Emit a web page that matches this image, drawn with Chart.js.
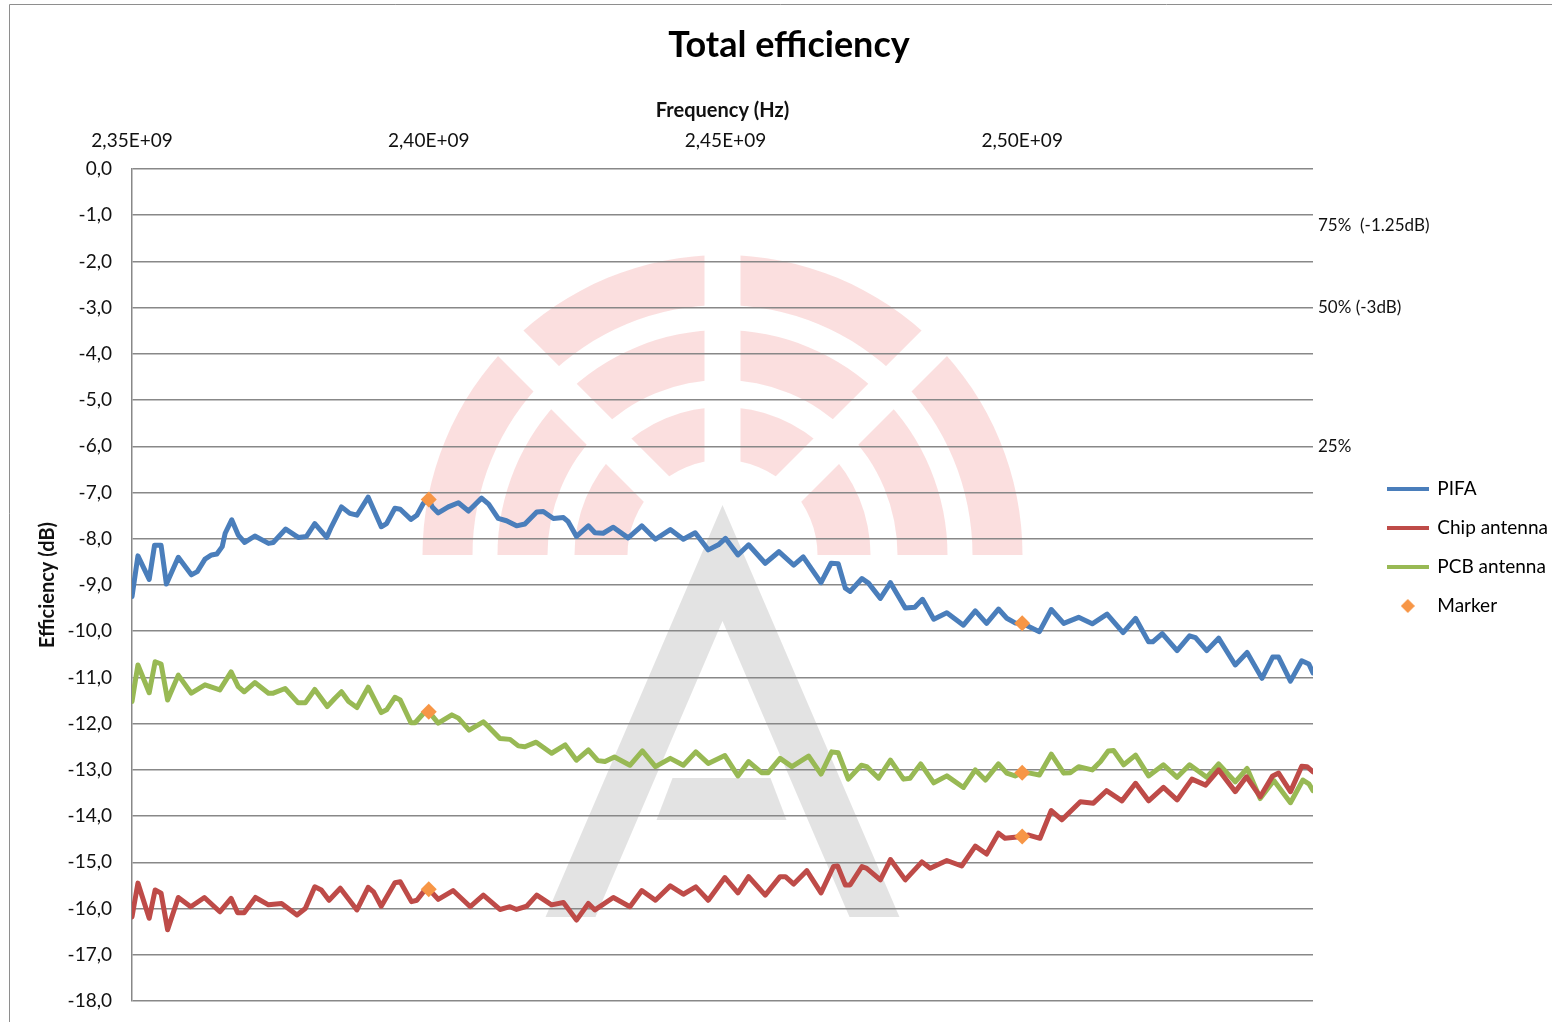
<!DOCTYPE html>
<html>
<head>
<meta charset="utf-8">
<title>Total efficiency</title>
<script src="https://cdn.jsdelivr.net/npm/chart.js@4.4.1/dist/chart.umd.min.js"></script>
<style>
    html, body { margin: 0; padding: 0; background: #fff; }
    canvas { display: block; }
</style>
</head>
<body>
<canvas id="effChart" width="1552" height="1022"></canvas>
<script>
// Measured total efficiency, frequency in MHz, efficiency in dB
const pifaFreqMHz = [2350.0, 2351.0, 2352.9, 2353.8, 2354.9, 2355.8, 2357.8, 2360.0, 2361.0, 2362.3, 2363.4, 2364.3, 2365.2, 2365.7, 2366.8, 2367.9, 2369.0, 2370.7, 2373.0, 2373.8, 2375.9, 2378.0, 2379.4, 2380.8, 2382.8, 2383.6, 2385.3, 2386.7, 2387.9, 2389.8, 2392.0, 2392.9, 2394.3, 2395.2, 2397.0, 2398.0, 2399.1, 2400.0, 2400.6, 2401.6, 2403.3, 2405.0, 2406.7, 2408.9, 2410.1, 2411.7, 2413.1, 2414.8, 2416.2, 2418.2, 2419.3, 2421.0, 2422.7, 2423.5, 2424.9, 2426.9, 2428.0, 2429.4, 2431.1, 2433.6, 2435.9, 2438.2, 2440.7, 2442.9, 2444.9, 2447.1, 2448.8, 2450.0, 2452.1, 2453.9, 2456.7, 2459.0, 2461.5, 2463.1, 2466.1, 2467.8, 2469.0, 2470.2, 2471.0, 2473.0, 2474.1, 2476.1, 2477.8, 2480.3, 2481.9, 2483.2, 2485.1, 2487.3, 2490.1, 2492.1, 2494.0, 2496.0, 2497.4, 2498.8, 2500.0, 2501.1, 2502.9, 2504.9, 2507.0, 2509.5, 2511.8, 2514.3, 2517.0, 2519.1, 2521.3, 2522.0, 2523.6, 2526.1, 2528.2, 2529.2, 2531.1, 2533.1, 2535.9, 2537.9, 2540.4, 2542.2, 2543.2, 2545.2, 2547.1, 2548.3, 2549.0];
const pifaDb = [-9.25, -8.37, -8.88, -8.14, -8.14, -8.98, -8.40, -8.78, -8.71, -8.44, -8.35, -8.33, -8.17, -7.88, -7.59, -7.92, -8.08, -7.94, -8.10, -8.08, -7.79, -7.97, -7.95, -7.67, -7.97, -7.74, -7.31, -7.45, -7.49, -7.10, -7.74, -7.67, -7.34, -7.36, -7.58, -7.49, -7.23, -7.15, -7.31, -7.44, -7.31, -7.22, -7.40, -7.12, -7.25, -7.56, -7.61, -7.72, -7.68, -7.42, -7.41, -7.56, -7.54, -7.63, -7.95, -7.72, -7.87, -7.88, -7.75, -7.98, -7.72, -8.01, -7.80, -8.01, -7.87, -8.24, -8.13, -7.99, -8.35, -8.13, -8.53, -8.28, -8.57, -8.39, -8.95, -8.53, -8.54, -9.07, -9.14, -8.86, -8.96, -9.29, -8.95, -9.50, -9.48, -9.31, -9.74, -9.60, -9.87, -9.56, -9.83, -9.52, -9.72, -9.82, -9.83, -9.90, -10.01, -9.53, -9.83, -9.70, -9.84, -9.63, -10.03, -9.72, -10.23, -10.23, -10.05, -10.42, -10.10, -10.14, -10.42, -10.15, -10.73, -10.46, -11.02, -10.56, -10.56, -11.08, -10.64, -10.71, -10.90];

const chipFreqMHz = [2350.0, 2351.0, 2352.9, 2353.9, 2354.9, 2356.0, 2357.8, 2359.9, 2362.2, 2364.8, 2366.7, 2367.8, 2368.9, 2370.8, 2373.0, 2375.2, 2377.8, 2379.2, 2380.8, 2381.9, 2383.2, 2385.1, 2387.9, 2389.8, 2390.7, 2392.0, 2394.3, 2395.2, 2397.1, 2398.0, 2399.1, 2400.0, 2401.6, 2404.1, 2407.0, 2409.2, 2412.0, 2413.7, 2414.8, 2416.5, 2418.2, 2420.7, 2422.7, 2424.9, 2426.9, 2428.0, 2431.1, 2433.9, 2435.9, 2438.2, 2440.7, 2442.9, 2445.0, 2447.1, 2449.9, 2452.1, 2453.9, 2456.7, 2459.2, 2460.1, 2461.5, 2463.7, 2466.1, 2468.2, 2468.9, 2470.2, 2471.0, 2473.0, 2473.8, 2476.1, 2477.8, 2480.3, 2483.1, 2484.5, 2487.3, 2489.8, 2492.1, 2494.0, 2496.0, 2497.1, 2500.0, 2501.1, 2503.0, 2504.9, 2506.7, 2509.8, 2512.0, 2514.2, 2516.8, 2519.1, 2521.3, 2523.8, 2526.1, 2528.6, 2530.9, 2533.1, 2535.9, 2537.8, 2540.1, 2542.2, 2543.2, 2545.2, 2547.1, 2548.0, 2549.0];
const chipDb = [-16.18, -15.45, -16.21, -15.60, -15.67, -16.46, -15.76, -15.96, -15.76, -16.07, -15.78, -16.09, -16.09, -15.76, -15.92, -15.89, -16.14, -16.00, -15.53, -15.60, -15.82, -15.56, -16.03, -15.54, -15.64, -15.95, -15.44, -15.42, -15.85, -15.82, -15.64, -15.58, -15.80, -15.61, -15.96, -15.71, -16.02, -15.96, -16.02, -15.95, -15.71, -15.92, -15.87, -16.25, -15.89, -16.03, -15.76, -15.96, -15.61, -15.82, -15.51, -15.69, -15.53, -15.82, -15.33, -15.66, -15.31, -15.71, -15.31, -15.31, -15.47, -15.18, -15.66, -15.09, -15.08, -15.49, -15.49, -15.09, -15.13, -15.38, -14.94, -15.38, -14.99, -15.13, -14.96, -15.08, -14.65, -14.82, -14.37, -14.48, -14.44, -14.41, -14.48, -13.88, -14.08, -13.69, -13.72, -13.45, -13.67, -13.29, -13.67, -13.38, -13.65, -13.20, -13.33, -13.00, -13.47, -13.15, -13.58, -13.13, -13.07, -13.47, -12.92, -12.93, -13.04];

const pcbFreqMHz = [2350.0, 2351.0, 2352.9, 2353.9, 2354.9, 2356.0, 2357.8, 2360.0, 2362.3, 2364.8, 2366.7, 2367.9, 2368.9, 2370.7, 2373.0, 2373.8, 2375.8, 2378.0, 2379.2, 2380.8, 2382.9, 2384.2, 2385.3, 2386.5, 2387.9, 2389.8, 2392.0, 2392.9, 2394.3, 2395.2, 2397.0, 2397.7, 2399.1, 2400.0, 2401.6, 2403.9, 2405.0, 2406.8, 2409.2, 2410.1, 2412.0, 2413.7, 2415.1, 2416.2, 2418.1, 2420.7, 2423.0, 2424.9, 2426.9, 2428.5, 2429.7, 2431.3, 2433.9, 2436.0, 2438.2, 2440.7, 2442.9, 2445.0, 2447.1, 2449.9, 2452.1, 2453.9, 2456.1, 2457.2, 2459.2, 2461.2, 2464.0, 2466.1, 2467.9, 2469.0, 2470.7, 2472.9, 2473.8, 2475.8, 2477.8, 2480.0, 2481.1, 2482.9, 2485.1, 2487.3, 2490.1, 2492.1, 2493.8, 2496.0, 2497.4, 2498.8, 2500.0, 2501.3, 2502.9, 2504.9, 2507.0, 2508.1, 2509.5, 2511.8, 2513.2, 2514.5, 2515.4, 2517.1, 2519.1, 2521.3, 2523.8, 2526.1, 2528.2, 2531.1, 2533.1, 2535.9, 2537.9, 2540.1, 2542.4, 2545.2, 2547.3, 2548.3, 2549.0];
const pcbDb = [-11.52, -10.73, -11.33, -10.66, -10.71, -11.49, -10.95, -11.34, -11.16, -11.27, -10.88, -11.20, -11.31, -11.11, -11.34, -11.34, -11.24, -11.55, -11.55, -11.26, -11.63, -11.45, -11.31, -11.52, -11.65, -11.21, -11.76, -11.70, -11.43, -11.49, -11.98, -11.98, -11.78, -11.74, -11.99, -11.81, -11.88, -12.14, -11.96, -12.07, -12.32, -12.34, -12.48, -12.50, -12.40, -12.64, -12.46, -12.79, -12.57, -12.80, -12.82, -12.72, -12.90, -12.59, -12.93, -12.75, -12.90, -12.61, -12.86, -12.69, -13.13, -12.82, -13.06, -13.06, -12.75, -12.93, -12.70, -13.09, -12.61, -12.63, -13.20, -12.90, -12.93, -13.18, -12.79, -13.20, -13.18, -12.87, -13.28, -13.13, -13.38, -13.00, -13.22, -12.87, -13.07, -13.13, -13.06, -13.07, -13.11, -12.66, -13.07, -13.06, -12.93, -13.00, -12.82, -12.59, -12.58, -12.89, -12.68, -13.13, -12.89, -13.16, -12.89, -13.16, -12.87, -13.26, -12.97, -13.62, -13.23, -13.71, -13.22, -13.30, -13.45];

// Marker points at 2.40 and 2.50 GHz on each curve
const markerFreqMHz = [2400, 2400, 2400, 2500, 2500, 2500];
const markerDb = [-7.15, -11.74, -15.58, -9.83, -13.06, -14.44];

// Frequency axis ticks (Hz)
const freqTicksHz = [2.35e9, 2.40e9, 2.45e9, 2.50e9];

// Reference efficiency levels written next to the plot
const effLevelsDb = [-1.25, -3.01, -6.02];
const effLabels = ['75%  (-1.25dB)', '50% (-3dB)', '25%'];

const COLORS = {
    pifa: '#4a7ebb',
    chip: '#be4b48',
    pcb: '#98b954',
    marker: '#f79646',
    grid: '#888888',
    text: '#111111'
};

const FONT = 'Lato, "Open Sans", sans-serif';

// Plot area edges in canvas pixels
const PLOT_LEFT = 132;
const PLOT_TOP = 169;
const PLOT_RIGHT = 1313;
// the legend runs a few pixels past the right edge, like the original sheet
const PAD = { left: 20, right: -6, top: 0, bottom: 21 };

Chart.defaults.font.family = FONT;
Chart.defaults.color = COLORS.text;

function formatHz(value) {
    return (value / 1e9).toFixed(2).replace('.', ',') + 'E+09';
}

function lineSet(label, freqs, values, color) {
    return {
        label: label,
        data: freqs.map((f, i) => ({ x: f * 1e6, y: values[i] })),
        showLine: true,
        borderColor: color,
        backgroundColor: color,
        borderWidth: 5,
        borderJoinStyle: 'round',
        borderCapStyle: 'round',
        pointRadius: 0,
        pointHoverRadius: 0,
        tension: 0,
        order: 1
    };
}

// Small canvases used as legend symbols
function lineIcon(color) {
    const c = document.createElement('canvas');
    c.width = 42;
    c.height = 4;
    const g = c.getContext('2d');
    g.fillStyle = color;
    g.fillRect(0, 0, 42, 4);
    return c;
}

function diamondIcon(color) {
    const c = document.createElement('canvas');
    c.width = 14;
    c.height = 14;
    const g = c.getContext('2d');
    g.fillStyle = color;
    g.beginPath();
    g.moveTo(7, 0);
    g.lineTo(14, 7);
    g.lineTo(7, 14);
    g.lineTo(0, 7);
    g.closePath();
    g.fill();
    return c;
}

// Logo behind the plot: radio rings and a grey "A"
const watermark = {
    id: 'watermark',
    beforeDraw(chart) {
        const { ctx, chartArea: a } = chart;
        const cx = (a.left + a.right) / 2;
        const cy = a.top + 386;
        ctx.save();

        ctx.fillStyle = 'rgba(235, 80, 80, 0.18)';
        [[95, 148], [175, 225], [250, 300]].forEach(([r0, r1]) => {
            ctx.beginPath();
            ctx.arc(cx, cy, r1, Math.PI, 2 * Math.PI);
            ctx.arc(cx, cy, r0, 2 * Math.PI, Math.PI, true);
            ctx.closePath();
            ctx.fill();
        });

        // cut the rings into segments
        ctx.globalCompositeOperation = 'destination-out';
        ctx.fillStyle = '#000';
        [-135, -90, -45].forEach(deg => {
            ctx.save();
            ctx.translate(cx, cy);
            ctx.rotate(deg * Math.PI / 180);
            ctx.fillRect(0, -18, 320, 36);
            ctx.restore();
        });
        ctx.globalCompositeOperation = 'source-over';

        ctx.fillStyle = 'rgba(0, 0, 0, 0.11)';
        const apex = a.top + 336;
        const base = a.top + 748;
        ctx.beginPath();
        ctx.moveTo(cx, apex);
        ctx.lineTo(cx + 177, base);
        ctx.lineTo(cx + 127, base);
        ctx.lineTo(cx, apex + 116);
        ctx.lineTo(cx - 127, base);
        ctx.lineTo(cx - 177, base);
        ctx.closePath();
        ctx.fill();

        ctx.beginPath();
        ctx.moveTo(cx - 50, a.top + 609);
        ctx.lineTo(cx + 48, a.top + 609);
        ctx.lineTo(cx + 64, a.top + 651);
        ctx.lineTo(cx - 66, a.top + 651);
        ctx.closePath();
        ctx.fill();

        ctx.restore();
    }
};

// Efficiency percentages written just right of the plot
const levelLabels = {
    id: 'levelLabels',
    afterDraw(chart) {
        const { ctx, chartArea } = chart;
        const yScale = chart.scales.y;
        ctx.save();
        ctx.font = '17px ' + FONT;
        ctx.fillStyle = COLORS.text;
        ctx.textAlign = 'left';
        ctx.textBaseline = 'middle';
        effLevelsDb.forEach((db, i) => {
            ctx.fillText(effLabels[i], chartArea.right + 5, yScale.getPixelForValue(db) - 1);
        });
        ctx.restore();
    }
};

// Outer frame of the chart
const frame = {
    id: 'frame',
    afterDraw(chart) {
        const ctx = chart.ctx;
        ctx.save();
        ctx.strokeStyle = '#8e8e8e';
        ctx.lineWidth = 1;
        ctx.beginPath();
        ctx.moveTo(9.5, chart.height);
        ctx.lineTo(9.5, 4.5);
        ctx.lineTo(chart.width, 4.5);
        ctx.stroke();
        ctx.restore();
    }
};

const datasets = [
    lineSet('PIFA', pifaFreqMHz, pifaDb, COLORS.pifa),
    lineSet('Chip antenna', chipFreqMHz, chipDb, COLORS.chip),
    lineSet('PCB antenna', pcbFreqMHz, pcbDb, COLORS.pcb),
    {
        label: 'Marker',
        data: markerFreqMHz.map((f, i) => ({ x: f * 1e6, y: markerDb[i] })),
        showLine: false,
        pointStyle: 'rectRot',
        pointRadius: 8,
        pointHoverRadius: 8,
        pointBorderWidth: 0,
        backgroundColor: COLORS.marker,
        borderColor: COLORS.marker,
        order: 0
    }
];

const chart = new Chart(document.getElementById('effChart'), {
    type: 'scatter',
    data: { datasets: datasets },
    options: {
        responsive: false,
        devicePixelRatio: 1,
        animation: false,
        events: [],
        layout: { padding: PAD },
        plugins: {
            title: {
                display: true,
                text: 'Total efficiency',
                color: '#000',
                font: { size: 36, weight: 'bold' },
                padding: { top: 23.4, bottom: 0 }
            },
            legend: {
                position: 'right',
                align: 'center',
                // empty title only pushes the entries down
                title: { display: true, text: '', font: { size: 10 }, padding: 41 },
                labels: {
                    usePointStyle: true,
                    pointStyleWidth: 40,
                    padding: 20,
                    color: '#000',
                    font: { size: 19 },
                    sort: (a, b) => a.datasetIndex - b.datasetIndex,
                    generateLabels(chart) {
                        const items = Chart.defaults.plugins.legend.labels.generateLabels(chart);
                        items.forEach(item => {
                            const ds = chart.data.datasets[item.datasetIndex];
                            item.pointStyle = ds.showLine ? lineIcon(ds.borderColor) : diamondIcon(ds.backgroundColor);
                        });
                        return items;
                    }
                }
            },
            tooltip: { enabled: false }
        },
        scales: {
            x: {
                type: 'linear',
                position: 'top',
                min: 2.35e9,
                max: 2.549e9,
                grid: { display: false, drawTicks: false },
                border: { display: false },
                ticks: {
                    maxRotation: 0,
                    autoSkip: false,
                    padding: 16.6,
                    font: { size: 19 },
                    callback: value => formatHz(value)
                },
                afterBuildTicks(scale) {
                    scale.ticks = freqTicksHz.map(v => ({ value: v }));
                },
                title: {
                    display: true,
                    text: 'Frequency (Hz)',
                    font: { size: 20, weight: 'bold' },
                    padding: { top: 32.4, bottom: 0 }
                },
                afterFit(scale) {
                    scale.height = PLOT_TOP - PAD.top - scale.chart.titleBlock.height;
                }
            },
            y: {
                position: 'left',
                min: -18,
                max: 0,
                // invisible tick marks hold the labels off the axis line
                grid: {
                    color: COLORS.grid,
                    lineWidth: 1.5,
                    drawTicks: true,
                    tickLength: 20,
                    tickColor: 'rgba(0, 0, 0, 0)'
                },
                border: { display: true, color: COLORS.grid, width: 1.5 },
                ticks: {
                    stepSize: 1,
                    padding: 0,
                    font: { size: 19 },
                    callback: value => value.toFixed(1).replace('.', ',')
                },
                title: {
                    display: true,
                    text: 'Efficiency (dB)',
                    font: { size: 20, weight: 'bold' },
                    padding: { top: 16, bottom: 0 }
                },
                afterFit(scale) {
                    scale.width = PLOT_LEFT - PAD.left;
                }
            },
            // empty right axis keeps room for the level labels
            y2: {
                position: 'right',
                min: -18,
                max: 0,
                grid: { display: false, drawTicks: false },
                border: { display: false },
                ticks: { display: false },
                afterFit(scale) {
                    scale.width = scale.chart.width - PAD.right - scale.chart.legend.width - PLOT_RIGHT;
                }
            }
        }
    },
    plugins: [watermark, levelLabels, frame]
});
</script>
</body>
</html>
